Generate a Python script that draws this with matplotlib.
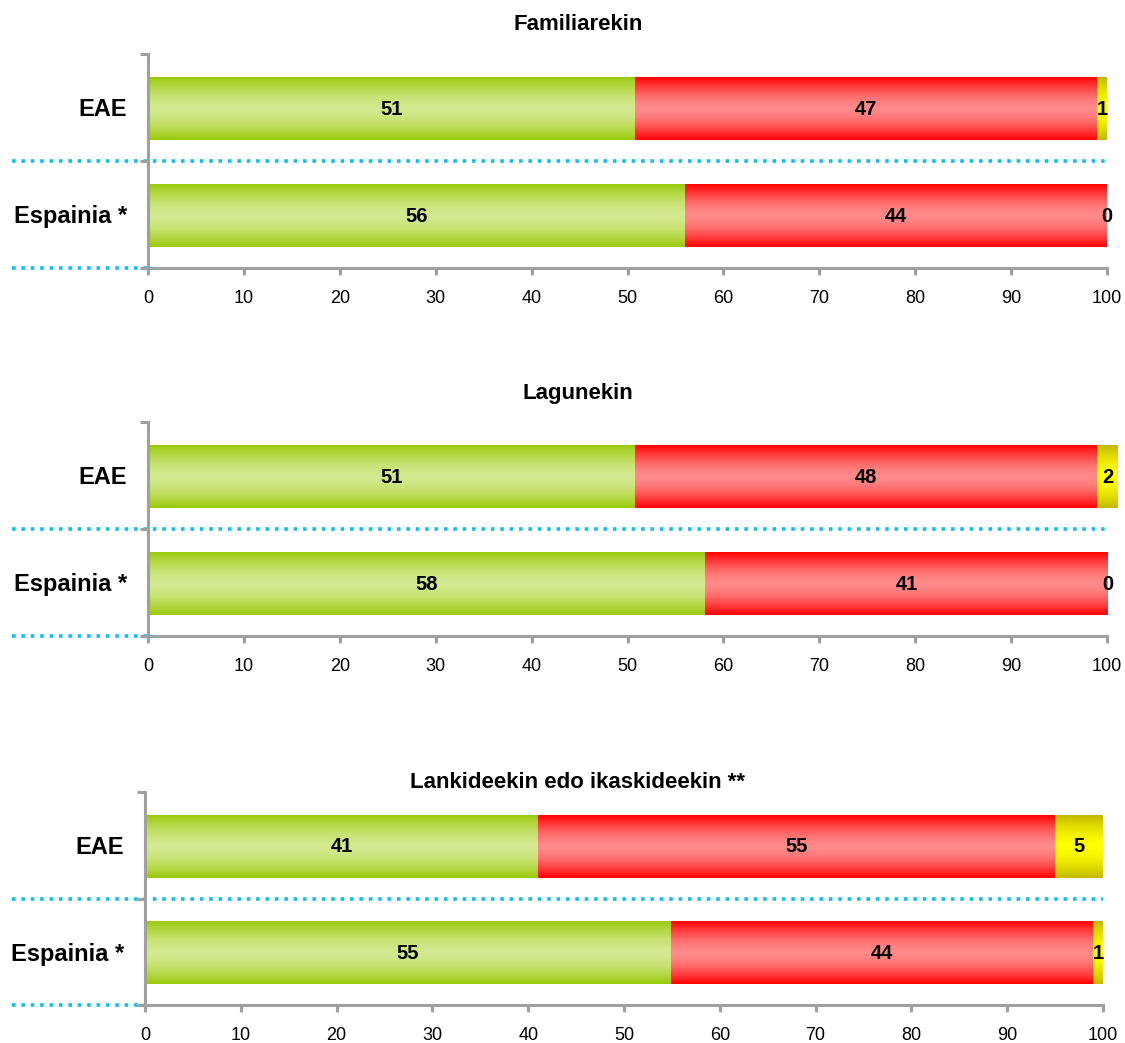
import numpy as np
import matplotlib
matplotlib.use("Agg")
import matplotlib.pyplot as plt
from matplotlib.colors import to_rgb

plt.rcParams['font.family'] = ['Liberation Sans', 'DejaVu Sans']

# ---------------- data ----------------
categories = ['EAE', 'Espainia *']
titles = ['Familiarekin', 'Lagunekin', 'Lankideekin edo ikaskideekin **']

green_vals = [[50.8, 56.0], [50.8, 58.1], [41.0, 54.9]]
red_vals = [[48.2, 44.0], [48.2, 42.0], [54.0, 44.1]]
yellow_vals = [[1.0, 0.0], [2.1, 0.0], [5.0, 1.0]]

green_labels = [['51', '56'], ['51', '58'], ['41', '55']]
red_labels = [['47', '44'], ['48', '41'], ['55', '44']]
yellow_labels = [['1', '0'], ['2', '0'], ['5', '1']]

xticks = [0, 10, 20, 30, 40, 50, 60, 70, 80, 90, 100]

# ---------------- style ----------------
W, H = 1125, 1043
fig = plt.figure(figsize=(W / 100, H / 100), dpi=100)

# axes boxes in pixels: left, right, top, bottom
boxes = [(148, 1107, 54, 268), (148, 1107, 422, 636), (145, 1103, 792, 1005)]
title_y = [25, 393, 782]

grad_cols = {
    'green': ('#99CA0A', '#D4E98F'),
    'red': ('#FF0000', '#FF8A8A'),
    'yellow': ('#C2B800', '#FFFF00'),
}
gray = '#A0A0A0'
cyan = '#10BEF0'


def gradient(dark, light, n=128):
    t = np.linspace(0, 1, n)
    f = np.abs(2 * t - 1) ** 1.6
    d = np.array(to_rgb(dark))
    l = np.array(to_rgb(light))
    img = l[None, :] + (d - l)[None, :] * f[:, None]
    return img[:, None, :]


for p in range(3):
    l, r, t, b = boxes[p]
    ax = fig.add_axes([l / W, 1 - b / H, (r - l) / W, (b - t) / H])
    y = np.arange(len(categories))
    height = 0.585
    left = np.zeros(len(categories))
    for vals, labs, key in [(green_vals[p], green_labels[p], 'green'),
                            (red_vals[p], red_labels[p], 'red'),
                            (yellow_vals[p], yellow_labels[p], 'yellow')]:
        bars = ax.barh(y + 0.015, vals, left=left, height=height, color='none',
                       edgecolor='none', zorder=2)
        img = gradient(*grad_cols[key])
        for bar, lab in zip(bars, labs):
            x0, y0 = bar.get_x(), bar.get_y()
            w, h = bar.get_width(), bar.get_height()
            if w > 0:
                ax.imshow(img, extent=[x0, x0 + w, y0 + h, y0], aspect='auto',
                          zorder=2, clip_on=False, interpolation='bilinear')
            ax.text(x0 + w / 2, y0 + h / 2, lab, ha='center', va='center',
                    fontsize=14.5, fontweight='bold', color='black', zorder=4)
        left = left + np.array(vals)

    ax.set_xlim(0, 100)
    ax.set_ylim(1.5, -0.5)
    ax.set_xticks(xticks)
    ax.set_xticklabels([str(v) for v in xticks], fontsize=13)
    ax.set_yticks([-0.5, 0.5, 1.5])
    ax.set_yticklabels([])
    ax.set_yticks(y, minor=True)
    ax.set_yticklabels(categories, minor=True, fontsize=17, fontweight='bold')
    ax.tick_params(axis='y', which='minor', length=0, pad=15)
    ax.tick_params(axis='y', which='major', length=6, width=2.2, color=gray,
                   direction='out')
    ax.tick_params(axis='x', length=5, width=2.2, color=gray, direction='out',
                   pad=10.5)
    for s in ['top', 'right']:
        ax.spines[s].set_visible(False)
    for s in ['left', 'bottom']:
        ax.spines[s].set_color(gray)
        ax.spines[s].set_linewidth(2.2)
        ax.spines[s].set_zorder(5)
    ax.set_facecolor('none')

    # dotted cyan separators
    xl = (12 - l) / (r - l)
    ax.plot([xl, 1.0], [0.5, 0.5], transform=ax.get_yaxis_transform(),
            color=cyan, lw=2.6, linestyle=(0, (1, 1.6)), clip_on=False,
            zorder=1, dash_capstyle='butt')
    ax.plot([xl, 0.0], [1.5, 1.5], transform=ax.get_yaxis_transform(),
            color=cyan, lw=2.6, linestyle=(0, (1, 1.6)), clip_on=False,
            zorder=1, dash_capstyle='butt')

    fig.text(578 / W, 1 - title_y[p] / H, titles[p], ha='center', va='center',
             fontsize=16, fontweight='bold')

fig.savefig('out.png', dpi=100)
